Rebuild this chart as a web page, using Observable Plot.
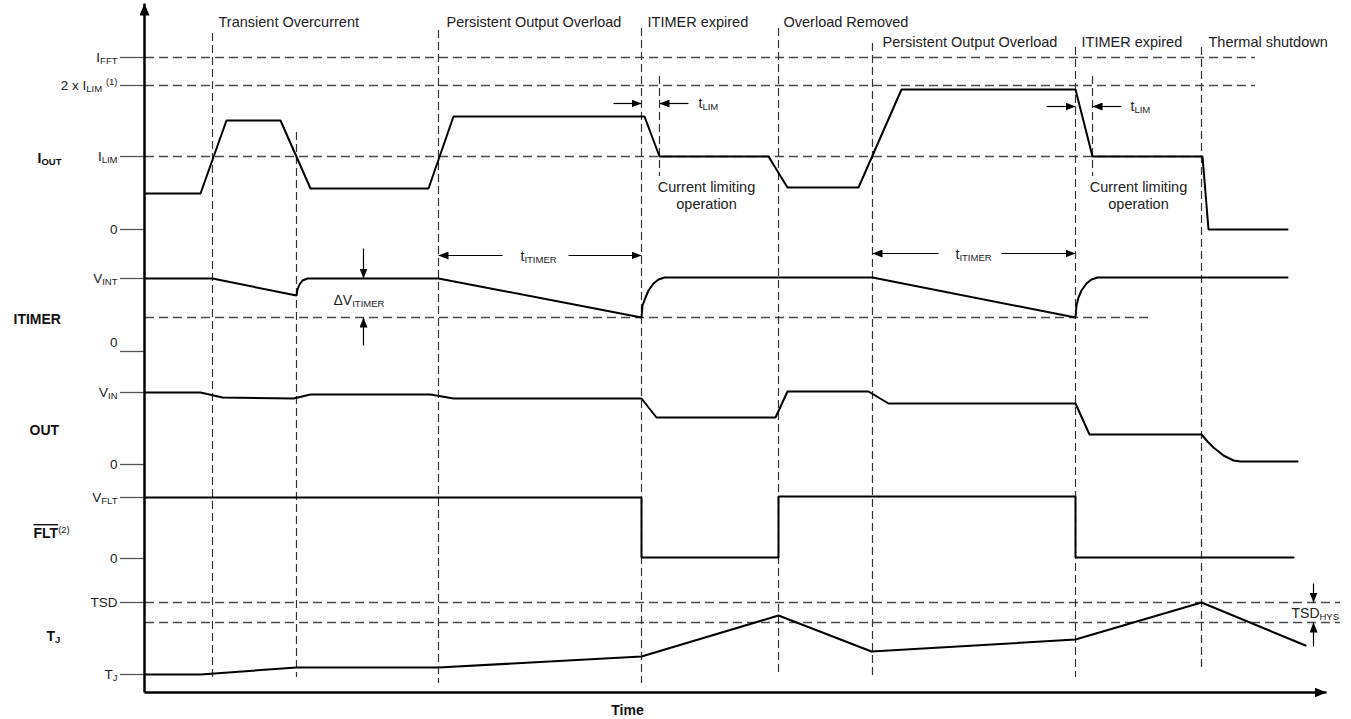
<!DOCTYPE html>
<html>
<head>
<meta charset="utf-8">
<script src="https://cdn.jsdelivr.net/npm/d3@7"></script>
<script src="https://cdn.jsdelivr.net/npm/@observablehq/plot@0.6"></script>
<style>
  html, body { margin: 0; padding: 0; background: #fff; }
  #chart svg { display: block; }
</style>
</head>
<body>
<div id="chart"></div>
<script>
// ---------- DATA (time and level values, drawing units) ----------
// Signal waveforms
const ioutTime  = [145, 200, 226, 280, 310, 428, 453, 644, 659, 768, 787, 858, 901, 1075, 1092, 1202, 1208, 1287];
const ioutLevel = [193, 193, 120, 120, 188, 188, 116, 116, 156, 156, 187, 187, 89, 89, 156, 156, 229, 229];

const itimerTime  = [145, 212, 296, 297, 299, 302, 307, 438, 641, 642, 645, 648, 653, 658, 664, 872, 1075, 1076, 1078, 1081, 1086, 1091, 1097, 1287];
const itimerLevel = [278, 278, 295, 289, 284, 280, 278, 278, 317, 305, 297, 290, 283, 279, 277, 277, 317, 305, 297, 290, 283, 279, 277, 277];

const outTime  = [145, 200, 222, 293, 310, 430, 453, 641, 656, 775, 787, 868, 888, 1075, 1089, 1201, 1207, 1213, 1223, 1233, 1240, 1297];
const outLevel = [392, 392, 397, 398, 394, 394, 398, 398, 417, 417, 391, 391, 403, 403, 434, 434, 441, 447, 455, 460, 461, 461];

const fltTime  = [145, 641, 641, 778, 778, 1075, 1075, 1293];
const fltLevel = [497, 497, 557, 557, 496, 496, 557, 557];

const tjTime  = [145, 200, 296, 438, 641, 778, 871, 1075, 1201, 1305];
const tjLevel = [674, 674, 667, 667, 656, 615, 651, 639, 602, 645];

// Horizontal dashed reference levels
const refLevel = [57, 85, 156, 317, 602, 622];
const refStart = [145, 145, 145, 145, 145, 145];
const refEnd   = [1255, 1255, 1202, 1152, 1340, 1340];

// Vertical dashed event markers
const markerTime   = [212, 296, 438, 641, 659, 778, 872, 1075, 1092, 1201];
const markerTop    = [33, 132, 30, 28, 76, 28, 43, 47, 76, 47];
const markerBottom = [678, 677, 683, 683, 176, 673, 675, 677, 176, 667];

// Y axis ticks and labels
const axisTime = 144, tickTime = 120, tickLabelTime = 117, axisBottom = 692, axisTop = 3, axisEnd = 1326;
const tickLevel      = [57, 85, 156, 229, 278, 351, 392, 464, 497, 558, 602, 674];
const tickLabelLevel = [57, 85, 156, 229, 278, 342, 392, 464, 497, 558, 602, 674];
const tickLabels = ["I_{FFT}", "2 x I_{LIM} ^{(1)}", "I_{LIM}", "0", "V_{INT}", "0", "V_{IN}", "0", "V_{FLT}", "0", "TSD", "T_{J}"];

// Row (signal) names
const rowLabels = ["I_{OUT}", "ITIMER", "OUT", "!{FLT}^{(2)}", "T_{J}"];
const rowStart  = [37, 13, 29, 33, 46];
const rowLevel  = [158, 319, 430, 533, 636];

// Event names along the top
const eventLabels = ["Transient Overcurrent", "Persistent Output Overload", "ITIMER expired", "Overload Removed",
                     "Persistent Output Overload", "ITIMER expired", "Thermal shutdown"];
const eventStart  = [218, 446, 647, 783, 882, 1081, 1208];
const eventLevel  = [22, 22, 22, 22, 42, 42, 42];

// Annotation arrows (from -> tip)
const arrowFromTime  = [613, 688, 1046, 1121, 502, 568, 938, 1001, 363, 363, 1313, 1313];
const arrowFromLevel = [103, 103, 106, 106, 255, 255, 253, 253, 248, 345, 583, 646];
const arrowToTime    = [641, 659, 1075, 1092, 438, 641, 872, 1075, 363, 363, 1313, 1313];
const arrowToLevel   = [103, 103, 106, 106, 255, 255, 253, 253, 278, 317, 602, 622];

// Annotation texts
const noteLabels = ["t_{LIM}", "t_{LIM}", "t_{ITIMER}", "t_{ITIMER}", "ΔV_{ITIMER}", "TSD_{HYS}"];
const noteStart  = [698, 1130, 520, 955, 333, 1291];
const noteLevel  = [103, 106, 256, 254, 300, 613];

const opLabels = ["Current limiting\noperation", "Current limiting\noperation"];
const opCenter = [706, 1138];
const opLevel  = [195, 195];

const timeLabel = ["Time"];
const timeCenter = [627];
const timeLevel = [710];

// ---------- TABLES ----------
const series = (name, T, V) => T.map((t, i) => ({signal: name, t, v: V[i]}));
const signals = [
  ...series("IOUT", ioutTime, ioutLevel),
  ...series("ITIMER", itimerTime, itimerLevel),
  ...series("OUT", outTime, outLevel),
  ...series("FLT", fltTime, fltLevel),
  ...series("TJ", tjTime, tjLevel)
];
const refs = refLevel.map((v, i) => ({v, t1: refStart[i], t2: refEnd[i]}));
const markers = markerTime.map((t, i) => ({t, v1: markerTop[i], v2: markerBottom[i]}));
const ticks = tickLevel.map((v, i) => ({v, lv: tickLabelLevel[i], label: tickLabels[i]}));
const rows = rowLabels.map((label, i) => ({label, t: rowStart[i], v: rowLevel[i]}));
const events = eventLabels.map((label, i) => ({label, t: eventStart[i], v: eventLevel[i]}));
const arrows = arrowToTime.map((t, i) => ({t1: arrowFromTime[i], v1: arrowFromLevel[i], t2: t, v2: arrowToLevel[i]}));
const notes = noteLabels.map((label, i) => ({label, t: noteStart[i], v: noteLevel[i]}));
const ops = opLabels.map((label, i) => ({label, t: opCenter[i], v: opLevel[i]}));
const axes = [
  {t1: axisTime, v1: axisBottom, t2: axisTime, v2: axisTop},
  {t1: axisTime, v1: axisBottom, t2: axisEnd, v2: axisBottom}
];
const times = timeLabel.map((label, i) => ({label, t: timeCenter[i], v: timeLevel[i]}));

// ---------- PLOT ----------
const svg = Plot.plot({
  width: 1351,
  height: 719,
  margin: 0,
  x: {domain: [0, 1351], range: [0, 1351], axis: null},
  y: {domain: [0, 719], range: [0, 719], axis: null},
  style: {fontFamily: "'Liberation Sans', Arial, sans-serif", background: "#fff", color: "#000"},
  marks: [
    Plot.ruleY(refs, {y: "v", x1: "t1", x2: "t2", stroke: "#4a4a4a", strokeWidth: 1.3, strokeDasharray: "9,5"}),
    Plot.ruleX(markers, {x: "t", y1: "v1", y2: "v2", stroke: "#333", strokeWidth: 1.2, strokeDasharray: "8,4"}),
    Plot.ruleY(ticks, {y: "v", x1: tickTime, x2: axisTime, stroke: "#555", strokeWidth: 1.3}),
    Plot.link(axes, {x1: "t1", y1: "v1", x2: "t2", y2: "v2", stroke: "#000", strokeWidth: 2.5, markerEnd: "arrow"}),
    Plot.line(signals, {x: "t", y: "v", z: "signal", stroke: "#000", strokeWidth: 2, strokeLinejoin: "miter"}),
    Plot.link(arrows, {x1: "t1", y1: "v1", x2: "t2", y2: "v2", stroke: "#000", strokeWidth: 1.2, markerEnd: "arrow"}),
    Plot.text(ticks, {x: tickLabelTime, y: "lv", text: "label", textAnchor: "end", fontSize: 13.5, fill: "#222"}),
    Plot.text(rows, {x: "t", y: "v", text: "label", textAnchor: "start", fontSize: 14, fontWeight: "bold", fill: "#111"}),
    Plot.text(events, {x: "t", y: "v", text: "label", textAnchor: "start", fontSize: 14.5, fill: "#222"}),
    Plot.text(notes, {x: "t", y: "v", text: "label", textAnchor: "start", fontSize: 14, fill: "#222"}),
    Plot.text(ops, {x: "t", y: "v", text: "label", textAnchor: "middle", fontSize: 14.5, lineHeight: 1.17, fill: "#222"}),
    Plot.text(times, {x: "t", y: "v", text: "label", textAnchor: "middle", fontSize: 14, fontWeight: "bold", fill: "#111"})
  ]
});

// ---------- POST-PROCESS: filled arrowheads ----------
svg.querySelectorAll("marker").forEach(m => {
  const g = m.parentNode;
  const sw = g ? parseFloat(g.getAttribute("stroke-width") || "1") : 1;
  const L = sw > 2 ? 12 : 10, W = sw > 2 ? 10 : 8;
  m.setAttribute("viewBox", `${-L} ${-W / 2} ${L} ${W}`);
  m.setAttribute("markerUnits", "userSpaceOnUse");
  m.setAttribute("markerWidth", L);
  m.setAttribute("markerHeight", W);
  m.setAttribute("refX", 0);
  m.setAttribute("refY", 0);
  m.setAttribute("fill", "#000");
  m.setAttribute("stroke", "none");
  m.innerHTML = "";
  const p = document.createElementNS("http://www.w3.org/2000/svg", "path");
  p.setAttribute("d", `M${-L},${-W / 2}L0,0L${-L},${W / 2}Z`);
  m.appendChild(p);
});

// ---------- POST-PROCESS: subscripts, superscripts, overline ----------
const NS = "http://www.w3.org/2000/svg";
svg.querySelectorAll("text").forEach(t => {
  const targets = t.querySelector("tspan") ? Array.from(t.querySelectorAll("tspan")) : [t];
  targets.forEach(el => {
    const s = el.textContent;
    if (!/[_^!]\{/.test(s)) return;
    el.textContent = "";
    const re = /([_^!])\{([^}]*)\}|([^_^!]+|[_^!])/g;
    let shift = 0, m;
    while ((m = re.exec(s))) {
      const span = document.createElementNS(NS, "tspan");
      let target = 0;
      if (m[1] === "_") { target = 2.5; span.setAttribute("font-size", "9.5px"); span.textContent = m[2]; }
      else if (m[1] === "^") { target = -5; span.setAttribute("font-size", "9.5px"); span.setAttribute("font-weight", "normal"); span.textContent = m[2]; }
      else if (m[1] === "!") { span.setAttribute("text-decoration", "overline"); span.style.textDecoration = "overline"; span.textContent = m[2]; }
      else span.textContent = m[3];
      if (target !== shift) { span.setAttribute("dy", target - shift); shift = target; }
      el.appendChild(span);
    }
  });
});

document.getElementById("chart").appendChild(svg);
</script>
</body>
</html>
